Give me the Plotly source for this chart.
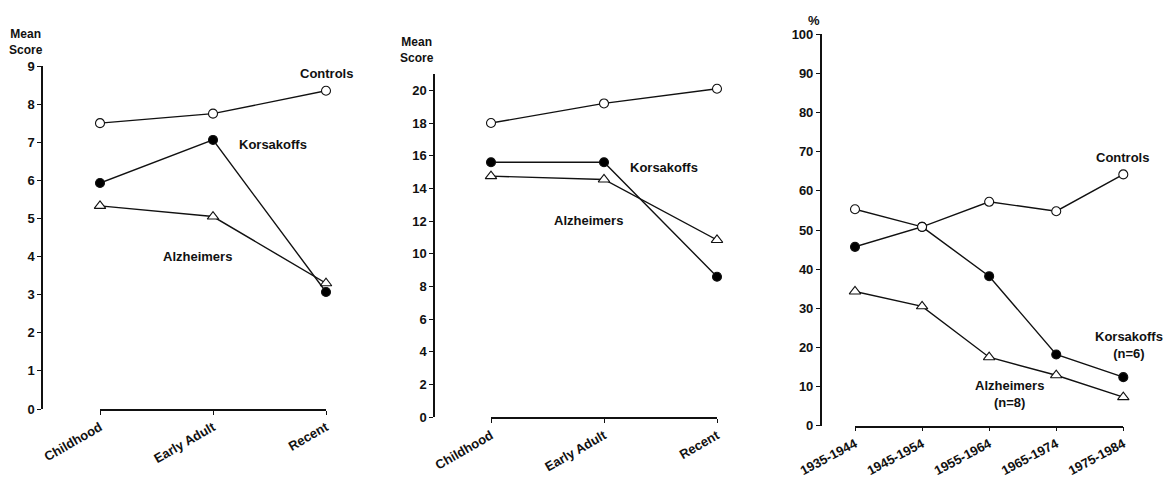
import plotly.graph_objects as go

W, H = 1165, 478

periods = ["Childhood", "Early Adult", "Recent"]
decades = ["1935-1944", "1945-1954", "1955-1964", "1965-1974", "1975-1984"]

# Panel 1 (mean score, 0-9)
p1_controls = [7.5, 7.75, 8.35]
p1_korsakoffs = [5.93, 7.06, 3.07]
p1_alzheimers = [5.33, 5.05, 3.3]

# Panel 2 (mean score, 0-20)
p2_controls = [18.0, 19.2, 20.1]
p2_korsakoffs = [15.6, 15.6, 8.6]
p2_alzheimers = [14.75, 14.55, 10.85]

# Panel 3 (%)
p3_controls = [55.3, 50.8, 57.2, 54.8, 64.2]
p3_korsakoffs = [45.7, 50.8, 38.2, 18.2, 12.4]
p3_alzheimers = [34.3, 30.5, 17.5, 12.9, 7.3]

FONT = "Liberation Sans, Arial, sans-serif"
INK = "#111111"

def px_x(p):
    return p / W

def px_y(p):
    return 1 - p / H

fig = go.Figure()

panels = [
    dict(cats=periods, series=[p1_alzheimers, p1_korsakoffs, p1_controls],
         xd=(100, 326), yax=42, yd=(409, 66), yr=[0, 9], dt=1, ax="", ang=-30),
    dict(cats=periods, series=[p2_alzheimers, p2_korsakoffs, p2_controls],
         xd=(491, 717), yax=434, yd=(417.3, 74), yr=[0, 21], dt=2, ax="2", ang=-30),
    dict(cats=decades, series=[p3_alzheimers, p3_korsakoffs, p3_controls],
         xd=(855, 1123.3), yax=820.7, yd=(425.7, 34.3), yr=[0, 100], dt=10, ax="3", ang=-28),
]

styles = [
    dict(symbol="triangle-up", color="white", size=10),   # Alzheimers
    dict(symbol="circle", color="black", size=9),        # Korsakoffs
    dict(symbol="circle", color="white", size=9),        # Controls
]

tickfont = dict(family=FONT, size=13, color=INK, weight="bold")

for i, p in enumerate(panels):
    xa = "x" + p["ax"]
    ya = "y" + p["ax"]
    for s, st in zip(p["series"], styles):
        fig.add_trace(go.Scatter(
            x=p["cats"], y=s, mode="lines+markers", xaxis=xa, yaxis=ya,
            line=dict(color=INK, width=1.4), cliponaxis=False, showlegend=False,
            marker=dict(symbol=st["symbol"], color=st["color"], size=st["size"],
                        line=dict(color=INK, width=1.1)),
        ))
    n = len(p["cats"])
    xkey = "xaxis" + p["ax"]
    ykey = "yaxis" + p["ax"]
    fig.layout[xkey] = dict(
        domain=[px_x(p["xd"][0]), px_x(p["xd"][1])], anchor=ya,
        type="category", range=[0, n - 1], showgrid=False, zeroline=False,
        showline=True, linecolor=INK, linewidth=1.5, ticks="outside",
        ticklen=4, tickcolor=INK, tickangle=p["ang"], automargin=False,
        tickfont=tickfont,
    )
    fig.layout[ykey] = dict(
        domain=[px_y(p["yd"][0]), px_y(p["yd"][1])], anchor="free",
        position=px_x(p["yax"]), range=p["yr"], dtick=p["dt"], tick0=0,
        showgrid=False, zeroline=False, showline=True, linecolor=INK,
        linewidth=1.5, ticks="outside", ticklen=4, tickcolor=INK,
        automargin=False, tickfont=tickfont,
    )

ann_font = dict(family=FONT, size=13, color=INK)

def lab(text, x, y, ax):
    fig.add_annotation(text="<b>%s</b>" % text, x=x, y=y, xref="x" + ax, yref="y" + ax,
                       showarrow=False, font=ann_font, xanchor="center", yanchor="middle")

def plab(text, xp, yp, size=12):
    fig.add_annotation(text="<b>%s</b>" % text, x=px_x(xp), y=px_y(yp), xref="paper",
                       yref="paper", showarrow=False,
                       font=dict(family=FONT, size=size, color=INK),
                       xanchor="center", yanchor="middle")

# Panel 1 labels
lab("Controls", 2, 8.79, "")
lab("Korsakoffs", 1.53, 6.93, "")
lab("Alzheimers", 0.86, 3.99, "")
plab("Mean<br>Score", 26, 42)

# Panel 2 labels
lab("Controls", 2, 21.1, "2")
lab("Korsakoffs", 1.535, 15.3, "2")
lab("Alzheimers", 0.86, 12.05, "2")
plab("Mean<br>Score", 417, 50)

# Panel 3 labels
lab("Controls", 3.99, 68.6, "3")
plab("Korsakoffs<br>(n=6)", 1129, 345, size=13)
lab("Alzheimers<br>(n=8)", 2.3, 8.1, "3")
plab("%", 814, 20, size=13)

fig.update_layout(
    width=W, height=H, margin=dict(l=0, r=0, t=0, b=0, autoexpand=False),
    paper_bgcolor="white", plot_bgcolor="white",
    font=dict(family=FONT, size=12, color=INK),
)

fig.write_html("out.html")
